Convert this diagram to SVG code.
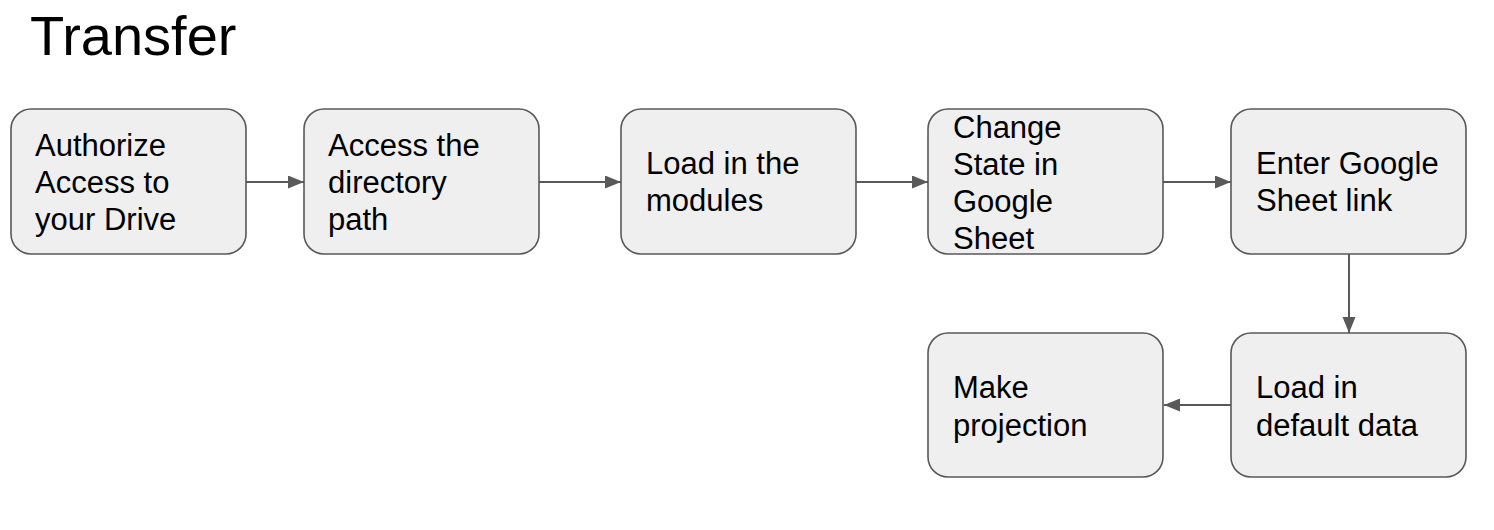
<svg xmlns="http://www.w3.org/2000/svg" width="1494" height="530" viewBox="0 0 1494 530">
<style>
.box{fill:#efefef;stroke:#595959;stroke-width:1.6}
.t{font-family:"Liberation Sans",Arial,sans-serif;font-size:31px;fill:#000}
.title{font-family:"Liberation Sans",Arial,sans-serif;font-size:56px;fill:#000}
.c{stroke:#595959;stroke-width:2;fill:none;marker-end:url(#ah)}
</style>
<defs>
<marker id="ah" markerUnits="userSpaceOnUse" markerWidth="16" markerHeight="14" refX="16" refY="6.5" orient="auto">
<path d="M0,0 L16,6.5 L0,13 Z" fill="#595959"/>
</marker>
</defs>
<rect width="1494" height="530" fill="#fff"/>
<text class="title" x="30" y="55">Transfer</text>
<g id="connectors">
<line class="c" x1="246" y1="182" x2="304" y2="182"/>
<line class="c" x1="539" y1="182" x2="621" y2="182"/>
<line class="c" x1="856" y1="182" x2="928" y2="182"/>
<line class="c" x1="1163" y1="182" x2="1231" y2="182"/>
<line class="c" x1="1349" y1="254" x2="1349" y2="333"/>
<line class="c" x1="1231" y1="405" x2="1164" y2="405"/>
</g>
<g id="n1"><rect class="box" x="11" y="109" width="235" height="145" rx="20"/>
<text class="t" x="35" y="156">Authorize</text><text class="t" x="35" y="193">Access to</text><text class="t" x="35" y="230">your Drive</text></g>
<g id="n2"><rect class="box" x="304" y="109" width="235" height="145" rx="20"/>
<text class="t" x="328" y="156">Access the</text><text class="t" x="328" y="193">directory</text><text class="t" x="328" y="230">path</text></g>
<g id="n3"><rect class="box" x="621" y="109" width="235" height="145" rx="20"/>
<text class="t" x="646" y="174">Load in the</text><text class="t" x="646" y="211">modules</text></g>
<g id="n4"><rect class="box" x="928" y="109" width="235" height="145" rx="20"/>
<text class="t" x="953" y="138">Change</text><text class="t" x="953" y="175">State in</text><text class="t" x="953" y="212">Google</text><text class="t" x="953" y="249">Sheet</text></g>
<g id="n5"><rect class="box" x="1231" y="109" width="235" height="145" rx="20"/>
<text class="t" x="1256" y="174">Enter Google</text><text class="t" x="1256" y="211">Sheet link</text></g>
<g id="n6"><rect class="box" x="1231" y="333" width="235" height="144" rx="20"/>
<text class="t" x="1256" y="398">Load in</text><text class="t" x="1256" y="436">default data</text></g>
<g id="n7"><rect class="box" x="928" y="333" width="235" height="144" rx="20"/>
<text class="t" x="953" y="398">Make</text><text class="t" x="953" y="436">projection</text></g>
</svg>
